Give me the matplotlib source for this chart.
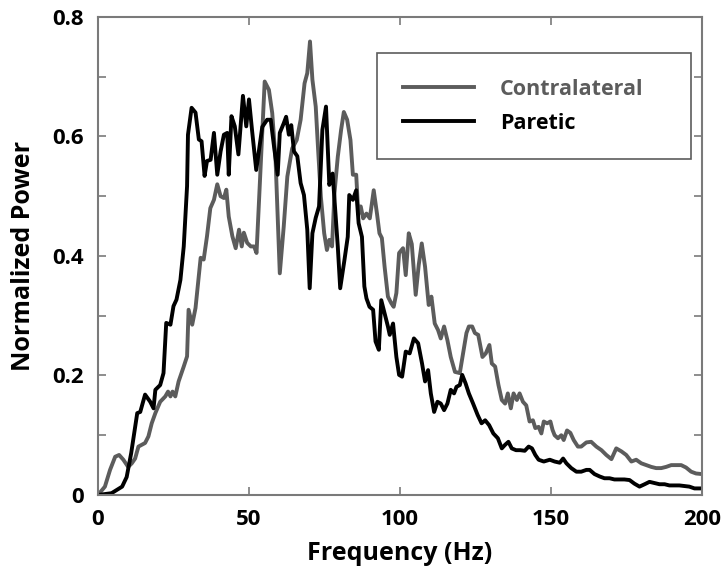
import matplotlib
matplotlib.use("Agg")
import matplotlib.pyplot as plt
from matplotlib.ticker import MultipleLocator

plt.rcParams['font.family'] = ['Open Sans', 'DejaVu Sans']
plt.rcParams['font.weight'] = 'bold'

# Contralateral side (gray)
contra_freq = [0, 2.3, 4, 5.7, 7, 8.4, 10, 11.2, 12.3, 13.4, 14.5, 15.6, 16.7, 17.8, 19,
               20.6, 22.3, 23.2, 24, 24.7, 25.6, 26.7, 28.4, 29.5, 30, 31.2, 32.3, 34, 35,
               36.1, 37.2, 38.4, 39.5, 40.6, 41.7, 42.5, 43.3, 44.5, 45.6, 46.7, 47.6, 48.3,
               49.4, 50.6, 51.7, 52.5, 53.8, 55.2, 56.6, 57.7, 58.8, 60.2, 61.5, 62.7, 64.3,
               65.8, 67.1, 68.4, 69.3, 70.2, 71, 72.1, 72.9, 73.8, 74.9, 75.8, 76.6, 77.5,
               78.3, 79.4, 80.5, 81.4, 82.5, 83.6, 84.4, 85.5, 86.2, 87, 87.8, 88.9, 90,
               91.3, 92.4, 93.2, 94, 94.9, 96, 97.1, 97.9, 98.8, 99.7, 101, 101.9, 102.9,
               103.9, 105.2, 106.2, 107.2, 108.3, 109.5, 110.4, 111.5, 112.6, 113.5, 114.6,
               115.7, 116.8, 118.2, 119.8, 120.9, 122, 122.8, 123.9, 124.8, 125.9, 127.3,
               128.4, 129.6, 130.4, 131.5, 132.6, 133.7, 134.8, 135.7, 136.7, 137.6, 138.7,
               139.6, 140.7, 141.8, 142.9, 144, 144.8, 145.9, 146.8, 147.6, 148.7, 149.8,
               150.5, 151.2, 152.3, 153.4, 154.2, 155.3, 156.4, 157.5, 158.9, 160, 161.7,
               163.3, 165, 166.7, 168.3, 170, 171.6, 173.3, 174.9, 176.6, 178.2, 179.9,
               181.5, 183.2, 184.8, 186.5, 188.1, 189.8, 191.4, 193.1, 194.7, 196.4, 198, 200]
contra_power = [0, 0.014, 0.042, 0.064, 0.067, 0.059, 0.047, 0.053, 0.061, 0.081, 0.084,
                0.087, 0.098, 0.12, 0.137, 0.156, 0.165, 0.173, 0.165, 0.173, 0.165, 0.19,
                0.215, 0.232, 0.31, 0.285, 0.313, 0.397, 0.394, 0.433, 0.48, 0.494, 0.52,
                0.5, 0.497, 0.511, 0.466, 0.433, 0.413, 0.444, 0.416, 0.439, 0.422, 0.416,
                0.416, 0.405, 0.544, 0.692, 0.678, 0.639, 0.561, 0.371, 0.449, 0.533, 0.58,
                0.594, 0.628, 0.689, 0.706, 0.759, 0.695, 0.65, 0.577, 0.499, 0.438, 0.41,
                0.427, 0.416, 0.505, 0.566, 0.611, 0.641, 0.628, 0.594, 0.536, 0.536, 0.47,
                0.483, 0.463, 0.471, 0.463, 0.51, 0.47, 0.438, 0.43, 0.382, 0.332, 0.321,
                0.315, 0.338, 0.405, 0.413, 0.368, 0.438, 0.42, 0.335, 0.385, 0.421, 0.382,
                0.318, 0.332, 0.287, 0.276, 0.262, 0.282, 0.259, 0.231, 0.206, 0.204, 0.237,
                0.271, 0.282, 0.282, 0.271, 0.268, 0.231, 0.237, 0.251, 0.22, 0.215, 0.184,
                0.159, 0.153, 0.17, 0.145, 0.17, 0.159, 0.17, 0.156, 0.15, 0.123, 0.125,
                0.112, 0.114, 0.103, 0.123, 0.12, 0.123, 0.109, 0.1, 0.095, 0.1, 0.092,
                0.108, 0.104, 0.092, 0.081, 0.081, 0.088, 0.089, 0.081, 0.075, 0.067, 0.06,
                0.078, 0.073, 0.067, 0.056, 0.059, 0.053, 0.05, 0.047, 0.045, 0.045, 0.047,
                0.05, 0.05, 0.05, 0.046, 0.039, 0.036, 0.035]

# Paretic side (black)
paretic_freq = [0, 4.5, 8, 9.5, 11, 13, 14, 15.6, 17.3, 18.4, 19, 20.6, 21.7, 22.6, 24, 25,
                26, 27.3, 28.4, 29.5, 29.8, 31, 32.3, 33.4, 34.3, 35.3, 36.1, 37.3, 38.4,
                39.5, 40.6, 41.7, 42.8, 43.3, 44.2, 45.3, 46.5, 48, 49.1, 50, 51, 52.4, 54.4,
                56, 57.2, 58.3, 59.5, 60.2, 61.5, 62.3, 63.2, 64, 64.9, 66, 67.1, 68.2, 69.3,
                70.1, 71, 72.1, 73.2, 74.3, 75.5, 76.6, 77.7, 79.4, 80.2, 81.6, 82.7, 83.2,
                84.4, 85.5, 86.3, 87.4, 88.2, 88.9, 89.9, 91.1, 91.9, 93, 93.8, 94.9, 96,
                96.6, 97.7, 98.8, 99.7, 100.7, 101.9, 103.2, 104.6, 106, 107.3, 108.3, 109.3,
                110.2, 111.3, 112.4, 113.5, 114.6, 115.7, 116.8, 117.9, 118.7, 119.8, 120.6,
                121.7, 122.8, 124.2, 125.7, 127, 128.2, 129.5, 130.9, 132.4, 133.7, 134.8,
                135.9, 137, 138.4, 139.8, 141.3, 142.6, 143.7, 144.8, 145.9, 147.6, 149.6,
                151.2, 152.9, 154, 155.1, 156.7, 158.4, 160, 161.7, 162.8, 164.4, 166.1,
                167.7, 169.4, 171, 172.7, 174.3, 176, 177.6, 179.3, 181, 182.6, 184.3, 185.9,
                187.6, 189.2, 190.9, 192.5, 194.2, 195.8, 197.5, 200]
paretic_power = [0, 0.003, 0.014, 0.03, 0.07, 0.137, 0.139, 0.168, 0.156, 0.145, 0.176,
                 0.184, 0.204, 0.288, 0.285, 0.316, 0.327, 0.36, 0.416, 0.517, 0.603, 0.648,
                 0.64, 0.595, 0.592, 0.534, 0.559, 0.561, 0.606, 0.536, 0.575, 0.603, 0.606,
                 0.536, 0.634, 0.617, 0.57, 0.668, 0.617, 0.662, 0.611, 0.544, 0.616, 0.628,
                 0.628, 0.583, 0.536, 0.606, 0.622, 0.633, 0.603, 0.619, 0.575, 0.567, 0.522,
                 0.502, 0.444, 0.346, 0.438, 0.464, 0.483, 0.611, 0.65, 0.519, 0.538, 0.416,
                 0.346, 0.393, 0.432, 0.502, 0.494, 0.51, 0.455, 0.432, 0.349, 0.329, 0.315,
                 0.31, 0.257, 0.243, 0.326, 0.304, 0.282, 0.268, 0.287, 0.231, 0.201, 0.198,
                 0.24, 0.237, 0.262, 0.254, 0.22, 0.19, 0.209, 0.17, 0.139, 0.156, 0.153,
                 0.142, 0.153, 0.176, 0.17, 0.181, 0.184, 0.201, 0.187, 0.17, 0.153, 0.134,
                 0.12, 0.125, 0.117, 0.103, 0.095, 0.078, 0.084, 0.089, 0.078, 0.075, 0.075,
                 0.074, 0.081, 0.078, 0.067, 0.059, 0.056, 0.059, 0.056, 0.054, 0.061, 0.053,
                 0.045, 0.039, 0.039, 0.042, 0.042, 0.035, 0.031, 0.028, 0.028, 0.026, 0.026,
                 0.026, 0.025, 0.019, 0.014, 0.018, 0.022, 0.02, 0.018, 0.018, 0.016, 0.016,
                 0.016, 0.015, 0.014, 0.011, 0.011]

xtick_vals = [0, 50, 100, 150, 200]
ytick_vals = [0, 0.2, 0.4, 0.6, 0.8]
ytick_labels = ["0", "0.2", "0.4", "0.6", "0.8"]

gray = "#5c5c5c"
axis_gray = "#7a7a7a"

fig = plt.figure(figsize=(7.23, 5.70), dpi=100)
ax = fig.add_axes([0.1355, 0.1316, 0.8355, 0.8386])

ax.plot(contra_freq, contra_power, color=gray, lw=2.8, label="Contralateral")
ax.plot(paretic_freq, paretic_power, color="black", lw=2.8, label="Paretic")

ax.set_xlim(0, 200)
ax.set_ylim(0, 0.8)
ax.set_xticks(xtick_vals)
ax.set_yticks(ytick_vals)
ax.set_yticklabels(ytick_labels)
ax.yaxis.set_minor_locator(MultipleLocator(0.1))

for s in ax.spines.values():
    s.set_color(axis_gray)
    s.set_linewidth(1.5)
ax.tick_params(which="both", direction="in", top=True, right=True, length=6,
               width=1.2, color=axis_gray, labelsize=16, pad=10)

ax.set_xlabel("Frequency (Hz)", fontsize=18, fontweight="bold", labelpad=8)
ax.set_ylabel("Normalized Power", fontsize=18, fontweight="bold", labelpad=12)

leg = ax.legend(loc="upper left", bbox_to_anchor=(0.462, 0.925, 0.52, 0.0),
                mode="expand", fancybox=False, edgecolor="#333333",
                fontsize=15.5, handlelength=3.3, handletextpad=1.2,
                borderpad=1.2, labelspacing=0.6, labelcolor="linecolor",
                borderaxespad=0)
leg.get_frame().set_linewidth(1.2)

fig.savefig("out.png", dpi=100)
